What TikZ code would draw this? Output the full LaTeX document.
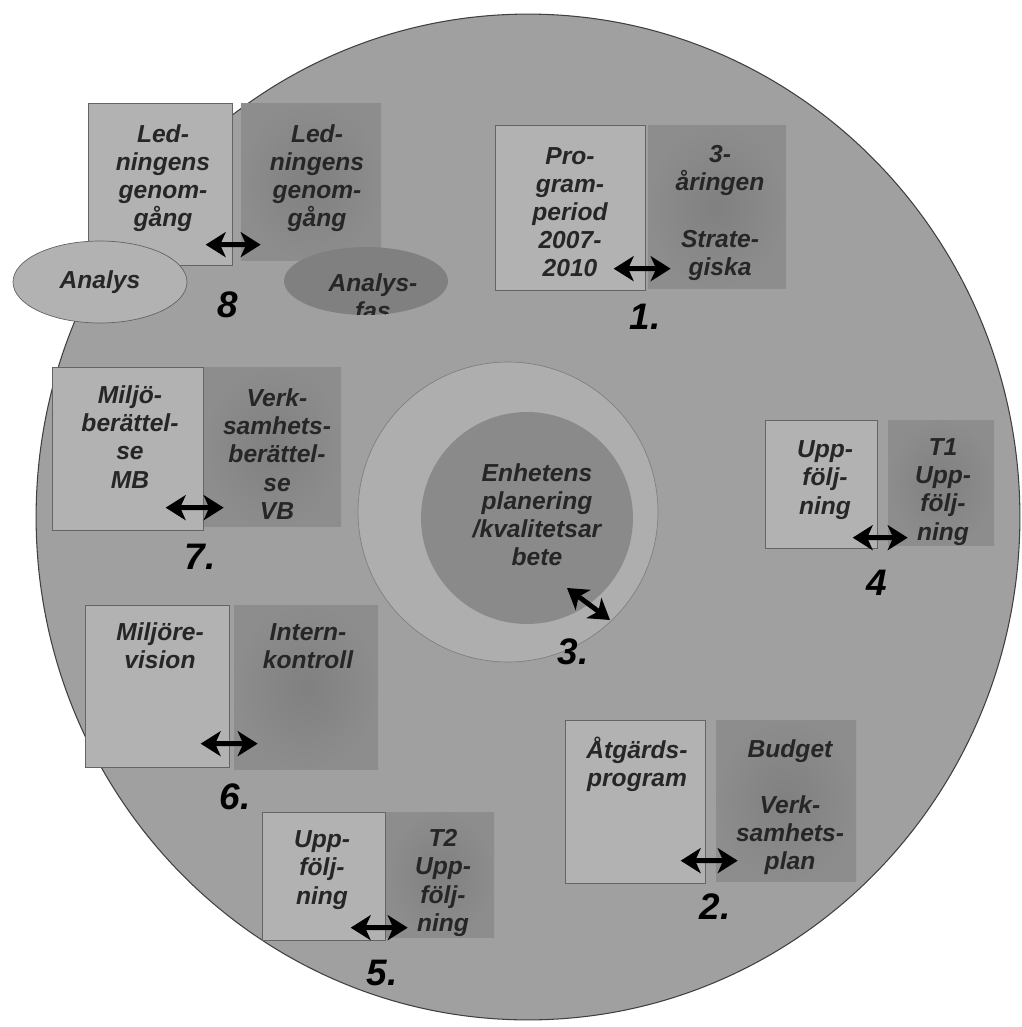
\documentclass[tikz,border=0pt]{standalone}
\usepackage{fontspec}
\setmainfont{Liberation Sans}
\usetikzlibrary{positioning, arrows.meta, calc, shapes.geometric}
\definecolor{discgray}{RGB}{160,160,160}
\definecolor{palegray}{RGB}{178,178,178}
\definecolor{darkgray}{RGB}{128,128,128}
\definecolor{ringgray}{RGB}{174,174,174}
\definecolor{coregray}{RGB}{138,138,138}
\definecolor{edgegray}{RGB}{100,100,100}

\tikzset{
  palebox/.style={draw=edgegray, line width=0.4pt, fill=palegray, inner sep=0pt},
  darkbox/.style={inner sep=0pt, inner color=darkgray, outer color=darkgray!60!discgray},
  txt/.style={font=\bfseries\itshape\fontsize{14}{16}\selectfont, align=center, inner sep=0pt, text=black!85},
  num/.style={font=\bfseries\itshape\fontsize{21}{24}\selectfont, inner sep=0pt},
  dbl/.style={{Stealth[length=4mm,width=5mm,inset=1.1mm]}-{Stealth[length=4mm,width=5mm,inset=1.1mm]}, line width=2.8pt, black}
}

\begin{document}
\begin{tikzpicture}[x=0.02cm, y=-0.02cm, node distance=0.2cm]
  \useasboundingbox (0,0) rectangle (1021,1027);
  \fill[white] (0,0) rectangle (1021,1027);

  % disc, ring and centre
  \node[ellipse, draw=black!75, line width=0.6pt, fill=discgray, minimum width=19.68cm, minimum height=20.12cm, inner sep=0pt] (disc) at (528,517) {};
  \node[circle, draw=gray, line width=0.4pt, fill=ringgray, minimum size=6cm, inner sep=0pt] (ring) at (508,512) {};
  \node[circle, fill=coregray, minimum size=4.24cm, inner sep=0pt] (core) at (527,518) {};
  \node[txt] (coretext) at (537,515) {Enhetens\\planering\\/kvalitetsar\\bete};

  % 8
  \node[palebox, anchor=north west, minimum width=2.88cm, minimum height=3.24cm] (p8l) at (88,103) {};
  \node[darkbox, right=0.16cm of p8l.north east, anchor=north west, minimum width=2.8cm, minimum height=3.14cm] (p8r) {};
  \node[txt] (t8l) at (163,178) {Led-\\ningens\\genom-\\gång};
  \node[txt] (t8r) at (317,178) {Led-\\ningens\\genom-\\gång};
  \node[ellipse, palebox, txt, minimum width=3.48cm, minimum height=1.64cm] (ana) at (100,282) {Analys};
  \node[ellipse, fill=darkgray, minimum width=3.28cm, minimum height=1.36cm, inner sep=0pt] (fas) at (366,281) {};
  \begin{scope}
    \clip (fas.center) ellipse [x radius=1.64cm, y radius=0.68cm];
    \node[txt] (fastext) at (373,297) {Analys-\\fas};
  \end{scope}
  \node[num] (n8) at (228,305) {8};

  % 1
  \node[palebox, anchor=north west, minimum width=3cm, minimum height=3.3cm] (p1l) at (495,125) {};
  \node[darkbox, right=0.04cm of p1l.north east, anchor=north west, minimum width=2.76cm, minimum height=3.26cm] (p1r) {};
  \node[txt] (t1l) at (570,212) {Pro-\\gram-\\period\\2007-\\2010};
  \node[txt] (t1r) at (720,213) {3-\\åringen\\[0.56cm]Strate-\\giska};
  \node[num] (n1) at (645,317) {1.};

  % 7
  \node[palebox, anchor=north west, minimum width=3.02cm, minimum height=3.26cm] (p7l) at (52,367) {};
  \node[darkbox, right=0cm of p7l.north east, anchor=north west, minimum width=2.74cm, minimum height=3.18cm] (p7r) {};
  \node[txt] (t7l) at (130,437) {Miljö-\\berättel-\\se\\MB};
  \node[txt] (t7r) at (277,454) {Verk-\\samhets-\\berättel-\\se\\VB};
  \node[num] (n7) at (200,557) {7.};

  % 4
  \node[palebox, anchor=north west, minimum width=2.24cm, minimum height=2.56cm] (p4l) at (765,420) {};
  \node[darkbox, right=0.2cm of p4l.north east, anchor=north west, minimum width=2.12cm, minimum height=2.5cm] (p4r) {};
  \node[txt] (t4l) at (825,480) {Upp-\\följ-\\ning};
  \node[txt] (t4r) at (943,492) {T1\\Upp-\\följ-\\ning};
  \node[num] (n4) at (877,583) {4};

  % 6
  \node[palebox, anchor=north west, minimum width=2.88cm, minimum height=3.24cm] (p6l) at (85,605) {};
  \node[darkbox, right=0.08cm of p6l.north east, anchor=north west, minimum width=2.88cm, minimum height=3.28cm] (p6r) {};
  \node[txt] (t6l) at (160,646) {Miljöre-\\vision};
  \node[txt] (t6r) at (308,646) {Intern-\\kontroll};
  \node[num] (n6) at (235,797) {6.};

  % 2
  \node[palebox, anchor=north west, minimum width=2.8cm, minimum height=3.26cm] (p2l) at (565,720) {};
  \node[darkbox, right=0.2cm of p2l.north east, anchor=north west, minimum width=2.8cm, minimum height=3.22cm] (p2r) {};
  \node[txt] (t2l) at (637,764) {Åtgärds-\\program};
  \node[txt] (t2r) at (790,807) {Budget\\[0.56cm]Verk-\\samhets-\\plan};
  \node[num] (n2) at (715,907) {2.};

  % 5
  \node[palebox, anchor=north west, minimum width=2.46cm, minimum height=2.56cm] (p5l) at (262,812) {};
  \node[darkbox, right=0cm of p5l.north east, anchor=north west, minimum width=2.16cm, minimum height=2.5cm] (p5r) {};
  \node[txt] (t5l) at (322,870) {Upp-\\följ-\\ning};
  \node[txt] (t5r) at (443,883) {T2\\Upp-\\följ-\\ning};
  \node[num] (n5) at (382,973) {5.};

  \node[num] (n3) at (573,652) {3.};

  % double arrows
  \draw[dbl] ($(p8l.south east)+(-27,-21)$) -- ($(p8r.south west)+(20,-16)$);
  \draw[dbl] ($(p1l.south east)+(-32,-22)$) -- ($(p1r.south west)+(23,-20)$);
  \draw[dbl] ($(p7l.south east)+(-38,-23)$) -- ($(p7r.south west)+(20,-19)$);
  \draw[dbl] ($(p4l.south east)+(-25,-11)$) -- ($(p4r.south west)+(20,-8)$);
  \draw[dbl] ($(p6l.south east)+(-29,-24)$) -- ($(p6r.south west)+(24,-26)$);
  \draw[dbl] ($(p2l.south east)+(-25,-23)$) -- ($(p2r.south west)+(22,-21)$);
  \draw[dbl] ($(p5l.south east)+(-35,-13)$) -- ($(p5r.south west)+(22,-10)$);
  \draw[dbl] ($(core.center)+(40,70)$) -- ($(core.center)+(83,102)$);
\end{tikzpicture}
\end{document}
